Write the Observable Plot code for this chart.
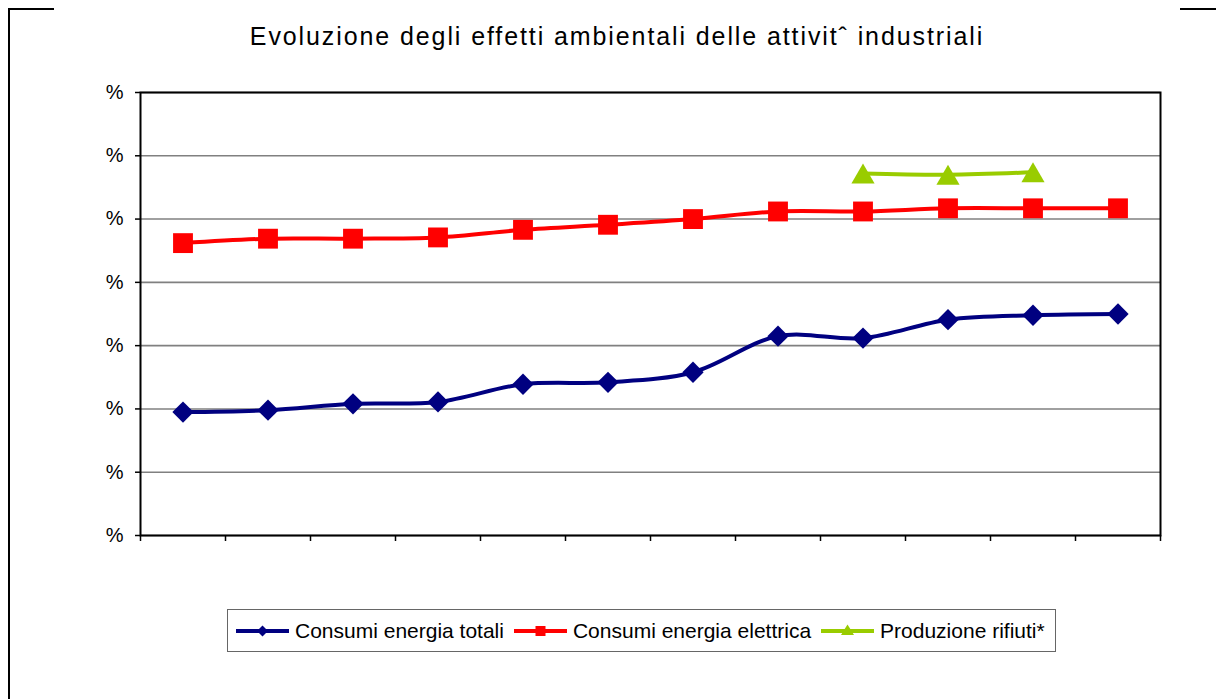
<!DOCTYPE html>
<html>
<head>
<meta charset="utf-8">
<script src="https://cdn.jsdelivr.net/npm/d3@7"></script>
<script src="https://cdn.jsdelivr.net/npm/@observablehq/plot@0.6"></script>
<style>
  html, body { margin: 0; padding: 0; background: #fff; }
  body { width: 1216px; height: 699px; position: relative; overflow: hidden; font-family: "Liberation Sans", Arial, sans-serif; }
  .fl { position: absolute; background: #000; }
  #title { position: absolute; left: 0; top: 22px; width: 1234px; text-align: center; font-size: 25px; letter-spacing: 1.9px; color: #000; white-space: nowrap; }
  #chart { position: absolute; left: 0; top: 60px; }
  #legend { position: absolute; left: 227px; top: 609px; height: 41px; padding: 0 0 0 8px; border: 1.5px solid #666; display: flex; align-items: center; font-size: 21px; color: #000; white-space: nowrap; box-sizing: content-box; background: #fff; }
  #legend .item { display: flex; align-items: center; margin-right: 10px; }
  #legend svg { margin-right: 6px; }
</style>
</head>
<body>
<div id="title">Evoluzione degli effetti ambientali delle attivitˆ industriali</div>
<div id="chart"></div>
<div id="legend"></div>
<div class="fl" style="left:8px;top:8px;width:46px;height:2px"></div>
<div class="fl" style="left:1180px;top:8px;width:36px;height:2px"></div>
<div class="fl" style="left:8px;top:8px;width:2px;height:691px"></div>
<script>
// Categories (x-axis labels are blank in the original)
const categories = ["", "", "", "", "", "", "", "", "", "", "", ""];
// Series values (percent units)
const consumiTotali = [19.5, 19.8, 20.8, 21.1, 23.9, 24.2, 25.8, 31.5, 31.2, 34.1, 34.8, 35.0];
const consumiElettrica = [46.2, 46.9, 46.9, 47.1, 48.3, 49.1, 50.0, 51.2, 51.2, 51.7, 51.7, 51.7];
const produzioneRifiuti = [null, null, null, null, null, null, null, null, 57.2, 57.0, 57.4, null];
// Y tick values and labels
const yTicks = [0, 10, 20, 30, 40, 50, 60, 70];
const yTickLabel = "%";

const seriesNames = ["Consumi energia totali", "Consumi energia elettrica", "Produzione rifiuti*"];
const seriesColors = ["#000080", "#FF0000", "#99CC00"];
const seriesSymbols = ["diamond2", "square", "triangle"];

function rows(values, name) {
  return values.map((v, i) => ({ pos: i + 0.5, cat: categories[i], value: v, series: name }))
               .filter(d => d.value != null);
}
const tot = rows(consumiTotali, seriesNames[0]);
const ele = rows(consumiElettrica, seriesNames[1]);
const rif = rows(produzioneRifiuti, seriesNames[2]);

const chart = Plot.plot({
  width: 1216,
  height: 500,
  marginLeft: 140,
  marginRight: 56,
  marginTop: 32,
  marginBottom: 25,
  style: { fontFamily: "Liberation Sans, Arial, sans-serif", fontSize: "19px", color: "#000", background: "transparent", overflow: "visible" },
  x: { domain: [0, categories.length], axis: null },
  y: { domain: [0, 70], axis: null },
  marks: [
    Plot.gridY(yTicks, { stroke: "#808080", strokeOpacity: 1, strokeWidth: 1.6 }),
    Plot.axisY(yTicks, { tickFormat: () => yTickLabel, tickSize: 5, tickPadding: 12, stroke: "#000", strokeWidth: 1.5, fontSize: 20, label: null }),
    Plot.axisX(d3.range(0, categories.length + 1), { tickFormat: () => "", tickSize: 6, stroke: "#000", strokeWidth: 1.5, label: null }),
    Plot.frame({ stroke: "#000", strokeWidth: 2 }),
    Plot.line(tot, { x: "pos", y: "value", stroke: seriesColors[0], strokeWidth: 4, curve: "catmull-rom" }),
    Plot.line(ele, { x: "pos", y: "value", stroke: seriesColors[1], strokeWidth: 4, curve: "catmull-rom" }),
    Plot.line(rif, { x: "pos", y: "value", stroke: seriesColors[2], strokeWidth: 4, curve: "catmull-rom" }),
    Plot.dot(tot, { x: "pos", y: "value", symbol: seriesSymbols[0], r: 9.6, fill: seriesColors[0], stroke: null }),
    Plot.dot(ele, { x: "pos", y: "value", symbol: seriesSymbols[1], r: 11.2, fill: seriesColors[1], stroke: null }),
    Plot.dot(rif, { x: "pos", y: "value", symbol: seriesSymbols[2], r: 8.6, dy: 3.3, fill: seriesColors[2], stroke: null })
  ]
});
document.getElementById("chart").appendChild(chart);

// Legend
const legend = document.getElementById("legend");
const symPaths = [
  "M26.5,4.5L32,10L26.5,15.5L21,10Z",
  "M21.5,5h10v10h-10Z",
  "M26.5,3.5L33,14h-13Z"
];
seriesNames.forEach((name, i) => {
  const item = document.createElement("div");
  item.className = "item";
  item.innerHTML = `<svg width="53" height="20" viewBox="0 0 53 20"><line x1="0" x2="53" y1="10" y2="10" stroke="${seriesColors[i]}" stroke-width="4"/><path d="${symPaths[i]}" fill="${seriesColors[i]}"/></svg><span>${name}</span>`;
  legend.appendChild(item);
});
</script>
</body>
</html>
